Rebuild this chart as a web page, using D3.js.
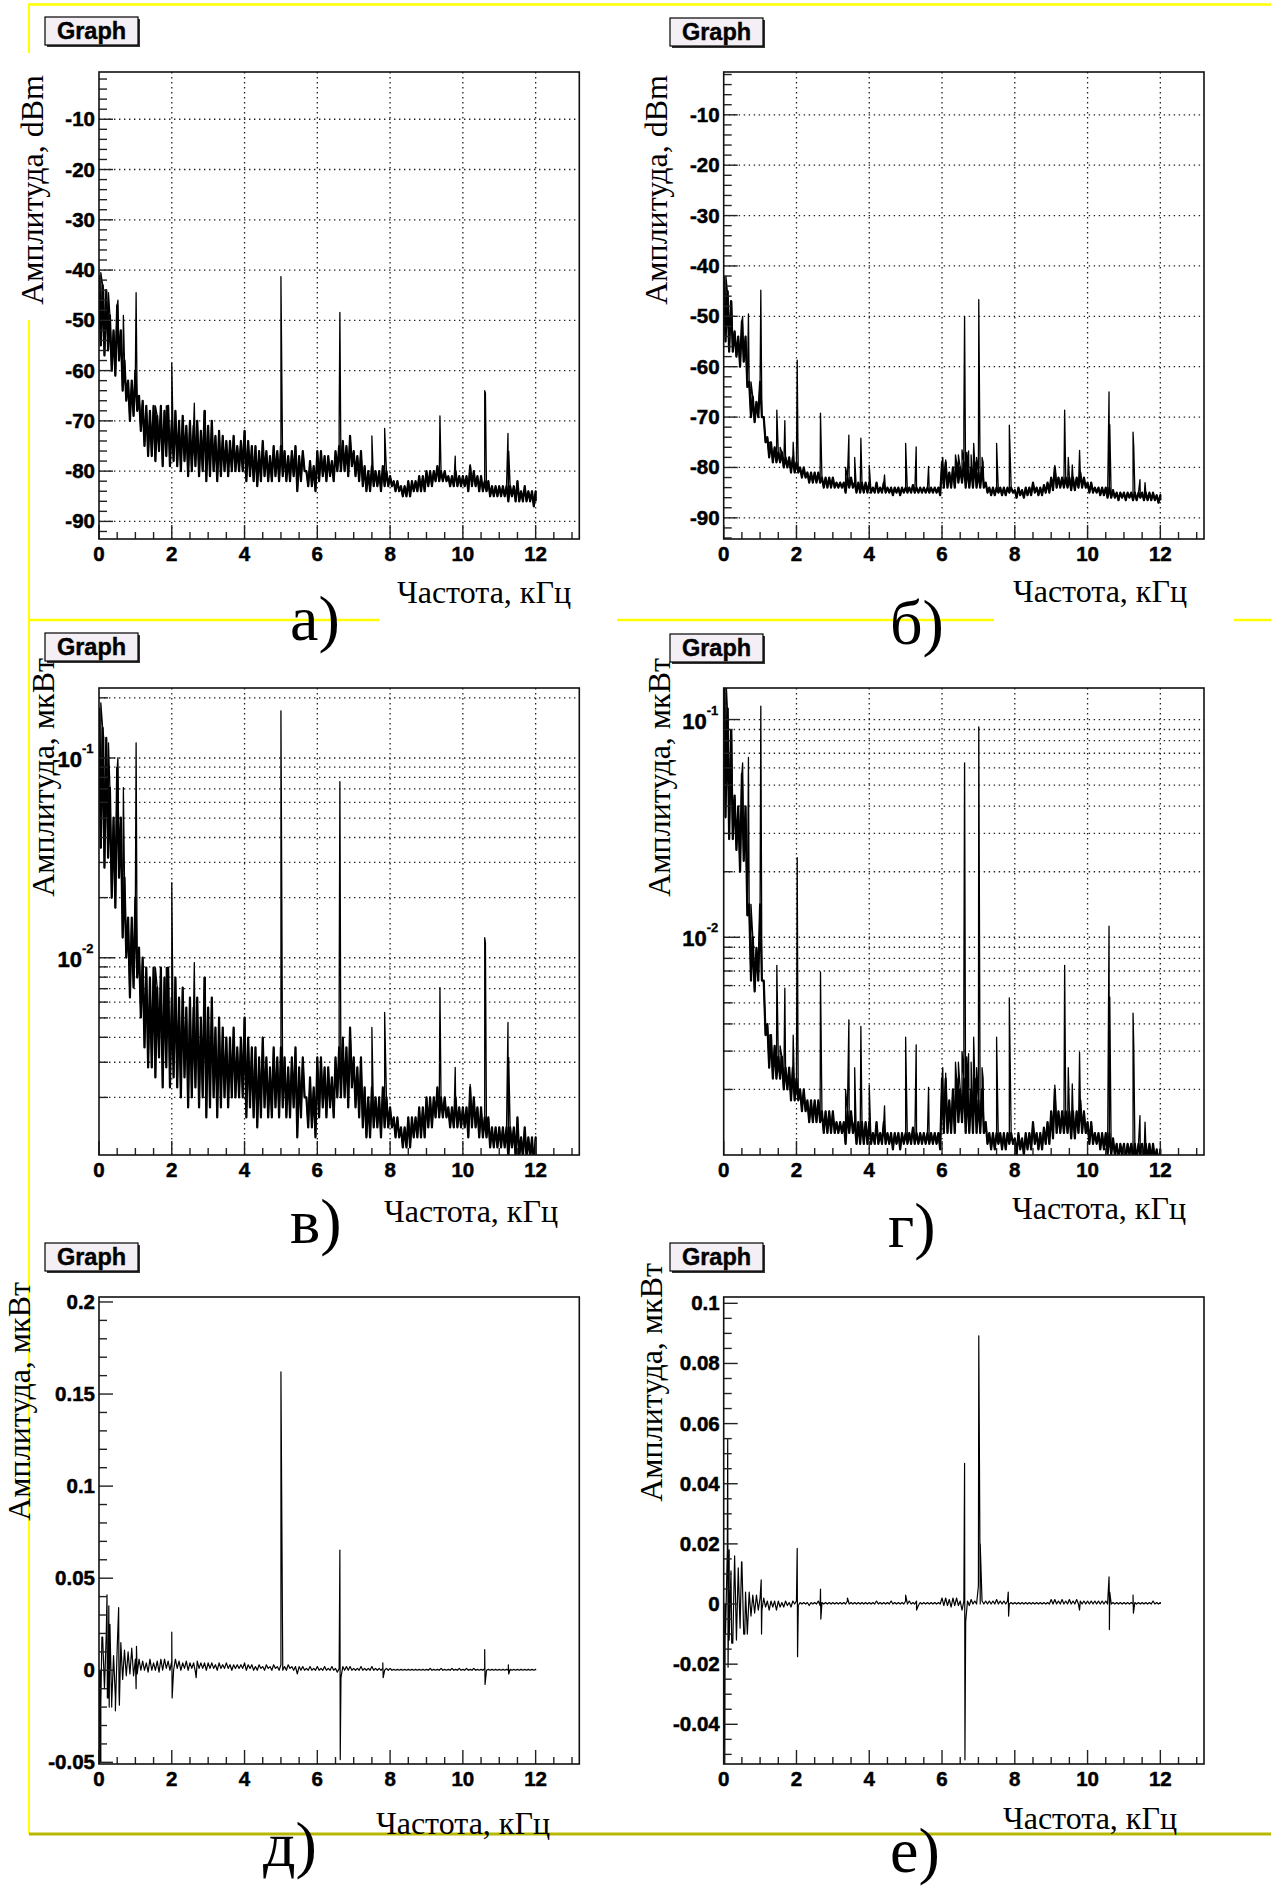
<!DOCTYPE html>
<html>
<head>
<meta charset="utf-8">
<script src="https://cdn.jsdelivr.net/npm/d3@7"></script>
<style>
  body { margin: 0; background: #fff; }
  .tick-label { font-family: "Liberation Sans", Arial, sans-serif; font-weight: bold; font-size: 20.5px; fill: #000; stroke: #000; stroke-width: 0.5px; }
  .axis-title { font-family: "Liberation Serif", "Times New Roman", serif; font-size: 32px; fill: #000; }
  .panel-letter { font-family: "Liberation Serif", "Times New Roman", serif; font-size: 64px; fill: #000; }
  .graph-label { font-family: "Liberation Sans", Arial, sans-serif; font-weight: bold; font-size: 23.5px; fill: #000; stroke: #000; stroke-width: 0.4px; }
</style>
</head>
<body>
<svg id="chart" width="1271" height="1888"></svg>
<script>
// spectrum bins every 0.1 kHz, 0..12 kHz
var binFreqs = d3.range(121).map(function(i) { return i / 10; });

// a) / б): amplitude, dBm (upper and lower edge of the noise band in each bin)
var specA_hi = [
  -41,-43,-44,-49,-52,-47,-52,-58,-62,-62,
  -60,-65,-66,-67,-68,-67,-69,-67,-68,-67,
  -70,-68,-70,-69,-71,-70,-71,-70,-72,-68,
  -71,-70,-73,-72,-73,-74,-74,-73,-75,-74,
  -72,-74,-75,-75,-76,-74,-76,-77,-75,-76,
  -75,-76,-77,-76,-75,-77,-76,-80,-78,-79,
  -76,-76,-77,-77,-78,-76,-75,-74,-75,-73,
  -76,-77,-76,-79,-80,-79,-80,-80,-79,-80,
  -81,-82,-82,-83,-83,-82,-82,-82,-81,-81,
  -80,-80,-80,-79,-80,-80,-81,-81,-80,-81,
  -81,-81,-79,-80,-81,-81,-82,-82,-83,-83,
  -83,-83,-83,-83,-83,-82,-84,-83,-84,-84,
  -84];
var specA_lo = [
  -55,-57,-56,-60,-61,-58,-64,-66,-70,-69,
  -68,-72,-75,-77,-77,-78,-76,-79,-77,-79,
  -78,-79,-80,-78,-81,-80,-79,-81,-80,-82,
  -81,-80,-82,-81,-80,-81,-80,-80,-80,-80,
  -82,-81,-82,-83,-82,-81,-82,-82,-81,-82,
  -81,-82,-82,-81,-84,-82,-80,-83,-83,-84,
  -82,-81,-82,-81,-82,-80,-80,-80,-81,-79,
  -81,-82,-83,-84,-84,-83,-83,-84,-83,-83,
  -83,-84,-84,-85,-85,-85,-84,-84,-84,-84,
  -83,-83,-82,-82,-82,-82,-83,-83,-83,-83,
  -83,-84,-83,-83,-84,-84,-84,-85,-85,-85,
  -85,-85,-86,-85,-86,-86,-86,-86,-86,-87,
  -86];
var spikesA = [[0.05,-40.5],[0.13,-44],[0.26,-44.5],[0.52,-46],[0.67,-49],[1.02,-44.5],[1.55,-67],[1.85,-67],
  [2.0,-58.5],[2.62,-66.5],[2.92,-68],[3.1,-70],[4.01,-72],[5.0,-41.3],[6.6,-70.5],[6.62,-48.4],[7.5,-73],
  [7.85,-71.5],[9.37,-69],[9.79,-77],[10.2,-78.7],[10.6,-64],[10.62,-64.5],[11.24,-72.5],[11.26,-76]];

var specB_hi = [
  -42,-45,-47,-53,-54,-51,-54,-63,-66,-67,
  -63,-70,-74,-75,-76,-77,-77,-78,-78,-78,
  -79,-80,-80,-81,-81,-81,-81,-82,-82,-82,
  -82,-83,-83,-83,-82,-82,-83,-83,-83,-83,
  -83,-84,-83,-84,-83,-84,-84,-84,-84,-84,
  -84,-84,-83.5,-84,-84,-84,-84,-84,-84,-84,
  -79,-79,-81,-80,-79,-80,-79,-80,-80,-79,
  -81,-80,-83,-84,-84,-84,-84,-84,-84,-84,
  -84.5,-84,-84.5,-84,-84,-83,-84,-84,-83.5,-83,
  -82,-80,-82,-82,-82,-82,-82,-82,-81,-82,
  -83,-83,-84,-84,-84,-84,-84,-84.5,-85,-85,
  -85,-85,-85,-85,-85,-85,-85,-85,-85,-85.5,
  -85.5];
var specB_lo = [
  -55,-57,-57,-58,-60,-59,-64,-70,-71,-70,
  -70,-75,-78,-79,-79,-79,-80,-80,-81,-81,
  -81,-82,-82,-83,-83,-83,-83,-84,-84,-84,
  -84,-84,-84,-85,-84,-84,-85,-85,-85,-85,
  -85,-85,-85,-85,-85,-85,-85.5,-85,-85.5,-85,
  -85,-85,-85,-85,-85,-85,-85,-85,-85,-85.5,
  -84,-84,-84,-84,-83,-83,-84,-84,-84,-84,
  -84,-84,-85,-85.5,-85.5,-85,-85.5,-85.5,-85,-85,
  -86,-85.5,-86,-85.5,-85.5,-85,-85.5,-85.5,-85,-85,
  -84.5,-84,-84,-84,-84,-84.5,-84.5,-84,-84,-84,
  -85,-85,-85,-85.5,-85.5,-86,-86,-86,-86.5,-86,
  -86.5,-86,-86.5,-86.5,-86,-86.5,-86.5,-86.5,-86.5,-87,
  -86.5];
var spikesB = [[0.06,-42],[0.12,-45],[0.22,-47],[0.52,-50],[0.68,-49.5],[0.75,-63],[1.02,-44.8],[1.25,-75],
  [1.46,-68.6],[1.55,-76],[1.68,-70.7],[1.91,-75],[2.02,-58.7],[2.04,-75.5],[2.66,-69.2],[3.35,-80],[3.44,-73.6],
  [3.6,-78],[3.77,-74.2],[4.0,-79.6],[4.42,-81.5],[5.0,-75.2],[5.29,-75.9],[5.63,-79.8],[6.02,-78],[6.1,-78.5],
  [6.37,-77.5],[6.45,-77.5],[6.55,-76.5],[6.6,-71.2],[6.62,-50],[6.68,-77],[6.73,-76.7],[6.8,-77.5],[6.87,-75.2],
  [6.95,-78],[7.01,-46.7],[7.1,-78],[7.13,-79],[7.5,-75.2],[7.85,-71.6],[9.1,-79.6],[9.37,-68.6],[9.47,-78],
  [9.58,-79.5],[9.78,-76.6],[10.59,-65],[10.61,-71.5],[11.25,-73],[11.27,-76],[11.44,-82.4],[11.58,-83]];

// д) / е): amplitude, мкВт
var specD_hi = [
  0,0.018,0.02,0.025,0.008,0.012,0.015,0.011,0.01,0.012,
  0.006,0.006,0.005,0.004,0.006,0.004,0.005,0.006,0.006,0.005,
  0.005,0.006,0.005,0.004,0.005,0.004,0.004,0.005,0.004,0.004,
  0.004,0.004,0.003,0.004,0.003,0.004,0.003,0.003,0.003,0.003,
  0.004,0.003,0.003,0.002,0.003,0.002,0.003,0.002,0.003,0.002,
  0.003,0.002,0.003,0.002,0.002,0.002,0.002,0.001,0.002,0.001,
  0.002,0.001,0.002,0.001,0.002,0.001,0.001,0.002,0.002,0.002,
  0.001,0.001,0.002,0.001,0.001,0.002,0.001,0.001,0.001,0.001,
  0.001,0.0005,0.0005,0.0005,0.0005,0.0005,0.0005,0.0005,0.0005,0.0005,
  0.0005,0.001,0.0005,0.0005,0.001,0.0005,0.0005,0.001,0.0005,0.001,
  0.0005,0.001,0.0005,0.001,0.0005,0.0005,0.001,0.0005,0.0005,0.0005,
  0.0005,0.0005,0.0005,0.0005,0.0005,0.0005,0.0005,0.0005,0.0005,0.0005,
  0.0005];
var specD_lo = [
  -0.05,-0.01,-0.015,-0.02,-0.015,-0.012,-0.005,-0.003,-0.002,-0.003,
  -0.002,0,0,-0.001,0,0,-0.001,0,0.001,0,
  0,0.001,0,0.001,0,0.001,-0.001,0.001,0.001,0,
  0.001,0.001,0,0.001,0.001,0.001,0,0.001,0.001,0.001,
  0,0.001,0,0,0.001,0,0.001,0,0.001,0,
  0,0,0.001,0,-0.002,0,0,0,0,0,
  0,0,0,0,0,-0.001,-0.004,0,0,0,
  0,0,0,0,0,0,0,0,0,0,
  0,0,0,0,0,0,0,0,0,0,
  0,0,0,0,0,0,0,0,0,0,
  0,0,0,0,0,0,0,0,0,0,
  0,0,0,0,0,0,0,0,0,0,
  0];
var spikesD = [[0.02,-0.05],[0.03,0],[0.05,-0.018],[0.08,0.018],[0.22,0.041],[0.23,-0.015],[0.27,0.035],
  [0.28,-0.02],[0.35,-0.018],[0.45,-0.022],[0.54,0.034],[0.56,-0.019],[1.02,-0.01],[1.03,0.013],[2.0,0.0207],
  [2.01,-0.015],[2.67,-0.004],[5.0,0.162],[6.62,0.0653],[6.63,-0.0485],[7.8,0.004],[7.81,-0.004],[10.6,0.0112],
  [10.61,-0.0077],[11.25,0.003],[11.26,-0.002]];

var specE_hi = [
  0,0.018,0.011,0.016,0.012,0.014,0.004,0.004,0.003,0.003,
  0.002,0.002,0.001,0.001,0.001,0.001,0.0005,0.001,0.0005,0.001,
  0.001,0.0005,0.0005,0.0005,0.0005,0.0005,0.001,0.0005,0.0005,0.0005,
  0.0005,0.0005,0.0005,0.0005,0.001,0.0005,0.0005,0.0005,0.0005,0.0005,
  0.0005,0.0005,0.001,0.0005,0.0005,0.0005,0.001,0.0005,0.0005,0.0005,
  0.001,0.001,0.0005,0.001,0.0005,0.0005,0.0005,0.0005,0.0005,0.0005,
  0.002,0.002,0.0015,0.002,0.002,0.001,0.001,0.001,0.0015,0.001,
  0.006,0.001,0.001,0.001,0.001,0.0015,0.001,0.001,0.001,0.0005,
  0.0005,0.0005,0.0005,0.0005,0.0005,0.0005,0.0005,0.0005,0.0005,0.0005,
  0.0015,0.0015,0.001,0.0015,0.001,0.0015,0.001,0.0015,0.001,0.001,
  0.001,0.001,0.001,0.001,0.001,0.001,0.001,0.0005,0.0005,0.0005,
  0.0005,0.0005,0.0005,0.0005,0.0005,0.0005,0.0005,0.0005,0.001,0.0005,
  0.0005];
var specE_lo = [
  -0.01,-0.012,-0.013,-0.012,-0.008,-0.01,-0.01,-0.004,-0.003,-0.002,
  -0.002,-0.001,-0.002,-0.001,-0.002,-0.001,-0.001,-0.0005,-0.001,0,
  -0.0005,0,0,-0.0005,0,0,-0.0005,0,0,0,
  0,0,0,0,0,0,0,0,0,0,
  0,0,0,0,0,0,0,0,0,0,
  0,0,0,-0.0005,0,0,0,0,0,0,
  -0.0005,-0.0005,-0.001,-0.0005,-0.0005,-0.002,-0.006,-0.0005,0,0,
  0,0,0,0,0,0,0,0,0,0,
  0,0,0,0,0,0,0,0,0,0,
  0,0,0,0,0,0,0,0,0,0,
  0,0,0,0,0,0,0,0,0,0,
  0,0,0,0,0,0,0,0,0,0,
  0];
var spikesE = [[0.03,-0.053],[0.04,0],[0.11,0.055],[0.12,-0.021],[0.15,0.018],[0.22,-0.013],[0.3,0.016],
  [0.49,0.014],[0.58,-0.01],[1.03,0.008],[1.04,-0.01],[2.02,0.0185],[2.03,-0.0175],[2.66,0.005],[2.67,-0.005],
  [3.4,0.002],[5.0,0.003],[5.3,-0.002],[6.62,0.0468],[6.63,-0.0518],[7.01,0.0892],[7.05,0.02],[7.82,0.004],
  [7.83,-0.004],[9.78,-0.002],[10.59,0.009],[10.6,-0.0085],[10.61,0.004],[11.25,0.003],[11.26,-0.003]];

// tick values / labels
var xMajor = [0, 2, 4, 6, 8, 10, 12];
var xTickLabels = ["0", "2", "4", "6", "8", "10", "12"];
var dbMajor = [-10, -20, -30, -40, -50, -60, -70, -80, -90];
var dbTickLabels = ["-10", "-20", "-30", "-40", "-50", "-60", "-70", "-80", "-90"];
var logMajor = [0.1, 0.01];
var logTickExp = ["-1", "-2"];
var dMajor = [0.2, 0.15, 0.1, 0.05, 0, -0.05];
var dTickLabels = ["0.2", "0.15", "0.1", "0.05", "0", "-0.05"];
var eMajor = [0.1, 0.08, 0.06, 0.04, 0.02, 0, -0.02, -0.04];
var eTickLabels = ["0.1", "0.08", "0.06", "0.04", "0.02", "0", "-0.02", "-0.04"];
var panelLetters = ["а)", "б)", "в)", "г)", "д)", "е)"];

// dBm -> мкВт as plotted in в) / г)
function dbmToMicroWatt(v) { return 20 * Math.pow(10, v / 20); }
function identity(v) { return v; }

// zigzag through band edges, spikes merged in by frequency
function buildSeries(hi, lo, spikes, conv) {
    var pts = [];
    binFreqs.forEach(function(f, i) {
        pts.push([f, conv(hi[i])]);
        pts.push([i < binFreqs.length - 1 ? f + 0.05 : f, conv(lo[i])]);
    });
    spikes.forEach(function(s) { pts.push([s[0], conv(s[1])]); });
    pts.sort(function(a, b) { return a[0] - b[0]; });
    return pts;
}

function logMinors(domain) {
    var out = [];
    [0.001, 0.01, 0.1].forEach(function(k) {
        for (var m = 2; m <= 9; m++) {
            var v = m * k;
            if (v > domain[0] && v < domain[1]) out.push(v);
        }
    });
    return out;
}

var svg = d3.select("#chart");
var plotW = 480.3, plotH = 467;
var xDomain = [0, 13.2];

// slide decoration
var deco = svg.append("g").attr("fill", "none");
deco.append("line").attr("x1", 28).attr("x2", 1271).attr("y1", 4.5).attr("y2", 4.5).attr("stroke", "#ffff00").attr("stroke-width", 2.5);
deco.append("line").attr("x1", 29).attr("x2", 29).attr("y1", 4).attr("y2", 53).attr("stroke", "#ffff00").attr("stroke-width", 2);
deco.append("line").attr("x1", 29).attr("x2", 29).attr("y1", 320).attr("y2", 1834).attr("stroke", "#ffff00").attr("stroke-width", 2);
[[28, 379], [617, 994], [1234, 1271]].forEach(function(s) {
    deco.append("line").attr("x1", s[0]).attr("x2", s[1]).attr("y1", 620).attr("y2", 620).attr("stroke", "#ffff00").attr("stroke-width", 2.5);
});
deco.append("line").attr("x1", 29).attr("x2", 1271).attr("y1", 1834).attr("y2", 1834).attr("stroke", "#b8b800").attr("stroke-width", 3);

var panels = [
    {left: 99, top: 72, kind: "db", yDomain: [-93.5, -0.6], major: dbMajor, labels: dbTickLabels, minorStep: 2,
     band: buildSeries(specA_hi, specA_lo, [], identity),
     series: buildSeries(specA_hi, specA_lo, spikesA, identity), yTitle: "Амплитуда, dBm",
     yTitleX: 43, yTitleTop: 75, xTitleEnd: 571, xTitleY: 603, box: [45, 17], letter: [290, 640]},
    {left: 723.7, top: 72, kind: "db", yDomain: [-94.2, -1.5], major: dbMajor, labels: dbTickLabels, minorStep: 2,
     band: buildSeries(specB_hi, specB_lo, [], identity),
     series: buildSeries(specB_hi, specB_lo, spikesB, identity), yTitle: "Амплитуда, dBm",
     yTitleX: 667, yTitleTop: 75, xTitleEnd: 1187, xTitleY: 602, box: [670, 18], letter: [890, 644]},
    {left: 99, top: 688, kind: "log", yDomain: [0.00103, 0.224], major: logMajor, labels: logTickExp,
     band: buildSeries(specA_hi, specA_lo, [], dbmToMicroWatt),
     series: buildSeries(specA_hi, specA_lo, spikesA, dbmToMicroWatt), yTitle: "Амплитуда, мкВт",
     yTitleX: 54, yTitleTop: 658, xTitleEnd: 558, xTitleY: 1222, box: [45, 633], letter: [290, 1243]},
    {left: 723.7, top: 688, kind: "log", yDomain: [0.001, 0.1396], major: logMajor, labels: logTickExp,
     band: buildSeries(specB_hi, specB_lo, [], dbmToMicroWatt),
     series: buildSeries(specB_hi, specB_lo, spikesB, dbmToMicroWatt), yTitle: "Амплитуда, мкВт",
     yTitleX: 670, yTitleTop: 658, xTitleEnd: 1186, xTitleY: 1219, box: [670, 634], letter: [888, 1247]},
    {left: 99, top: 1297, kind: "lin", yDomain: [-0.0509, 0.2027], major: dMajor, labels: dTickLabels, minorStep: 0.01,
     band: null,
     series: buildSeries(specD_hi, specD_lo, spikesD, identity), yTitle: "Амплитуда, мкВт",
     yTitleX: 30, yTitleTop: 1282, xTitleEnd: 550, xTitleY: 1834, box: [45, 1243], letter: [263, 1866]},
    {left: 723.7, top: 1297, kind: "lin", yDomain: [-0.0532, 0.1021], major: eMajor, labels: eTickLabels, minorStep: 0.005,
     band: null,
     series: buildSeries(specE_hi, specE_lo, spikesE, identity), yTitle: "Амплитуда, мкВт",
     yTitleX: 662, yTitleTop: 1263, xTitleEnd: 1177, xTitleY: 1829, box: [670, 1243], letter: [890, 1872]}
];

function drawPanel(p, idx) {
    var x = d3.scaleLinear().domain(xDomain).range([p.left, p.left + plotW]);
    var y = (p.kind === "log" ? d3.scaleLog() : d3.scaleLinear()).domain(p.yDomain).range([p.top + plotH, p.top]);
    var bottom = p.top + plotH;
    var g = svg.append("g").attr("class", "panel");

    var yMinor;
    if (p.kind === "log") {
        yMinor = logMinors(p.yDomain);
    } else {
        yMinor = d3.range(Math.ceil(p.yDomain[0] / p.minorStep), Math.floor(p.yDomain[1] / p.minorStep) + 1)
            .map(function(k) { return +(k * p.minorStep).toFixed(4); })
            .filter(function(v) { return p.major.indexOf(v) < 0; });
    }
    var xMinor = d3.range(0, 13.01, 0.5).filter(function(v) { return xMajor.indexOf(v) < 0; });

    // dotted grid (upper two rows only)
    if (p.kind !== "lin") {
        var grid = g.append("g").attr("stroke", "#222").attr("stroke-width", 1.3).attr("stroke-dasharray", "1.4,3.6");
        grid.selectAll(".gx").data(xMajor.slice(1)).enter().append("line")
            .attr("x1", function(d) { return x(d); }).attr("x2", function(d) { return x(d); })
            .attr("y1", p.top).attr("y2", bottom);
        var gy = p.kind === "log" ? p.major.concat(yMinor) : p.major;
        grid.selectAll(".gy").data(gy).enter().append("line")
            .attr("x1", p.left).attr("x2", p.left + plotW)
            .attr("y1", function(d) { return y(d); }).attr("y2", function(d) { return y(d); });
    }

    // data
    var clipId = "clip" + idx;
    svg.append("clipPath").attr("id", clipId).append("rect")
        .attr("x", p.left).attr("y", p.top).attr("width", plotW).attr("height", plotH);
    var line = d3.line().x(function(d) { return x(d[0]); }).y(function(d) { return y(d[1]); });
    if (p.band) {
        // noise floor drawn heavier, like the dense trace in the original
        g.append("path").datum(p.band)
            .attr("clip-path", "url(#" + clipId + ")")
            .attr("fill", "none").attr("stroke", "#000").attr("stroke-width", 2.2)
            .attr("stroke-linejoin", "round")
            .attr("d", line);
    }
    g.append("path").datum(p.series)
        .attr("clip-path", "url(#" + clipId + ")")
        .attr("fill", "none").attr("stroke", "#000")
        .attr("stroke-width", p.kind === "lin" ? 1.2 : 1.3)
        .attr("stroke-linejoin", "round")
        .attr("d", line);

    // ticks
    var ticks = g.append("g").attr("stroke", "#222").attr("stroke-width", 1.4);
    var majLen = p.kind === "log" ? 16 : 14, minLen = p.kind === "log" ? 9 : 8;
    ticks.selectAll(".ym").data(p.major).enter().append("line")
        .attr("x1", p.left).attr("x2", p.left + majLen)
        .attr("y1", function(d) { return y(d); }).attr("y2", function(d) { return y(d); });
    ticks.selectAll(".yn").data(yMinor).enter().append("line")
        .attr("x1", p.left).attr("x2", p.left + minLen)
        .attr("y1", function(d) { return y(d); }).attr("y2", function(d) { return y(d); });
    ticks.selectAll(".xm").data(xMajor).enter().append("line")
        .attr("x1", function(d) { return x(d); }).attr("x2", function(d) { return x(d); })
        .attr("y1", bottom).attr("y2", bottom - 14);
    ticks.selectAll(".xn").data(xMinor).enter().append("line")
        .attr("x1", function(d) { return x(d); }).attr("x2", function(d) { return x(d); })
        .attr("y1", bottom).attr("y2", bottom - 7);

    // frame
    g.append("rect").attr("x", p.left).attr("y", p.top).attr("width", plotW).attr("height", plotH)
        .attr("fill", "none").attr("stroke", "#111").attr("stroke-width", 1.6);

    // tick labels
    g.selectAll(".xl").data(xMajor).enter().append("text")
        .attr("class", "tick-label").attr("text-anchor", "middle")
        .attr("x", function(d) { return x(d); }).attr("y", bottom + 22)
        .text(function(d, i) { return xTickLabels[i]; });
    if (p.kind === "log") {
        g.selectAll(".yl").data(p.major).enter().append("text")
            .attr("class", "tick-label").attr("text-anchor", "end").style("font-size", "22px")
            .attr("x", p.left - 17).attr("y", function(d) { return y(d) + 9; })
            .text("10");
        g.selectAll(".ye").data(p.major).enter().append("text")
            .attr("class", "tick-label").attr("text-anchor", "start").style("font-size", "13px")
            .style("stroke-width", "0.3px")
            .attr("x", p.left - 17).attr("y", function(d) { return y(d) - 5; })
            .text(function(d, i) { return p.labels[i]; });
    } else {
        g.selectAll(".yl").data(p.major).enter().append("text")
            .attr("class", "tick-label").attr("text-anchor", "end")
            .attr("x", p.left - 4).attr("y", function(d) { return y(d) + 7; })
            .text(function(d, i) { return p.labels[i]; });
    }

    // titles
    g.append("text").attr("class", "axis-title").attr("text-anchor", "end")
        .attr("x", p.xTitleEnd).attr("y", p.xTitleY).text("Частота, кГц");
    g.append("text").attr("class", "axis-title").attr("text-anchor", "end")
        .attr("transform", "translate(" + p.yTitleX + "," + p.yTitleTop + ") rotate(-90)")
        .text(p.yTitle);

    // "Graph" title box
    var bx = p.box[0], by = p.box[1];
    g.append("rect").attr("x", bx + 2).attr("y", by + 2).attr("width", 93).attr("height", 28).attr("fill", "#333");
    g.append("rect").attr("x", bx).attr("y", by).attr("width", 93).attr("height", 28)
        .attr("fill", "#f4eff4").attr("stroke", "#000").attr("stroke-width", 1.2);
    g.append("text").attr("class", "graph-label").attr("text-anchor", "middle")
        .attr("x", bx + 46.5).attr("y", by + 22).text("Graph");

    g.append("text").attr("class", "panel-letter").attr("x", p.letter[0]).attr("y", p.letter[1])
        .text(panelLetters[idx]);
}

panels.forEach(drawPanel);
</script>
</body>
</html>
